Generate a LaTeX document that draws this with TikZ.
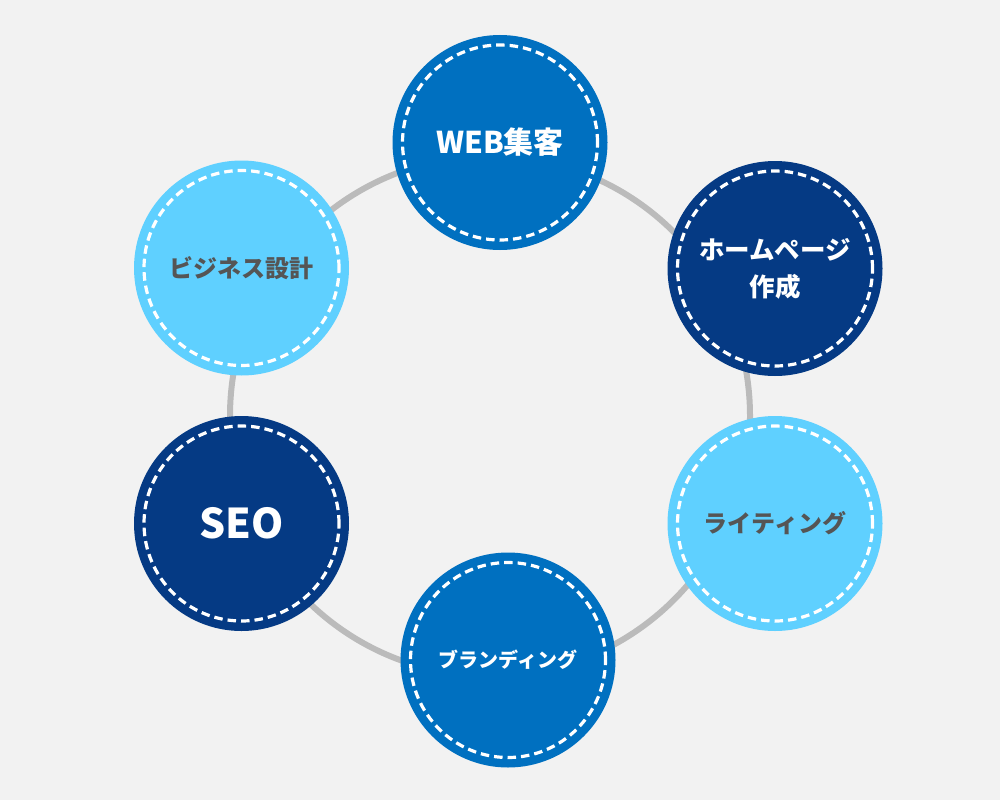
\documentclass[tikz,border=0pt]{standalone}
\usepackage{fontspec}
\newfontfamily\jp{Noto Sans CJK JP}
\definecolor{bg}{HTML}{F2F2F2}
\definecolor{midblue}{HTML}{0070C0}
\definecolor{navy}{HTML}{053A84}
\definecolor{lightblue}{HTML}{5FD0FF}
\definecolor{ringgray}{HTML}{BBBBBB}
\definecolor{txtgray}{HTML}{555555}
\begin{document}
\begin{tikzpicture}[x=1pt,y=-1pt,
  bubble/.style={circle,minimum size=215pt,inner sep=0pt,align=center,font=\jp\bfseries},
  dashring/.style={draw=white,line width=3.2pt,dash pattern=on 8.5pt off 5pt}]
\fill[bg] (0,0) rectangle (1000,800);
\useasboundingbox (0,0) rectangle (1000,800);
\coordinate (ctr) at (490,416);
\draw[ringgray,line width=6pt] (ctr) circle[radius=260pt];
\node[bubble,fill=midblue,text=white,font=\jp\bfseries\fontsize{30}{36}\selectfont] (web) at (500,142.5) {WEB集客};
\node[bubble,fill=navy,text=white,font=\jp\bfseries\fontsize{25.5}{37}\selectfont] (hp) at (775,268.5) {ホームページ\\作成};
\node[bubble,fill=lightblue,text=txtgray,font=\jp\bfseries\fontsize{24}{28}\selectfont] (wr) at (775,523.5) {ライティング};
\node[bubble,fill=midblue,text=white,font=\jp\bfseries\fontsize{20}{24}\selectfont] (br) at (508,660) {ブランディング};
\node[bubble,fill=navy,text=white,font=\jp\bfseries\fontsize{41}{48}\selectfont] (seo) at (241.5,523.5) {SEO};
\node[bubble,fill=lightblue,text=txtgray,font=\jp\bfseries\fontsize{24}{28}\selectfont] (biz) at (241.5,268) {ビジネス設計};
\foreach \n in {web,hp,wr,br,seo,biz}{
  \draw[dashring] (\n.center) circle[radius=97.5pt];
}
\end{tikzpicture}
\end{document}
